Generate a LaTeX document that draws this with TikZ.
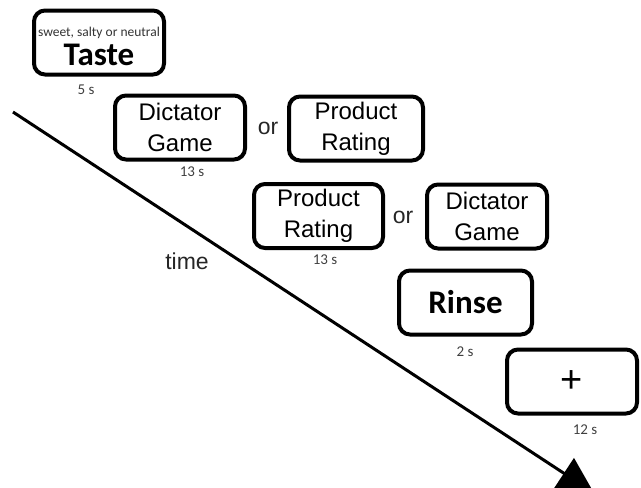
\documentclass[tikz,border=0pt]{standalone}
\usepackage{fontspec}
\usetikzlibrary{arrows.meta}
\newfontfamily\arialfont{Liberation Sans}
\newfontfamily\calfont{Carlito}

\begin{document}
\begin{tikzpicture}[x=1pt,y=-1pt,
  task/.style={draw, line width=4pt, rounded corners=11pt, minimum width=130pt, minimum height=64pt, inner sep=0pt, align=center, font=\arialfont\fontsize{24}{31}\selectfont},
  dur/.style={font=\calfont\fontsize{15}{15}\selectfont, text=black!75},
  word/.style={font=\arialfont\fontsize{23}{23}\selectfont, text=black!85}]
\useasboundingbox (0,0) rectangle (641,488);

% time line
\coordinate (t0) at (13,112);
\coordinate (t1) at (594,493);
\begin{scope}
\clip (0,0) rectangle (641,488);
\draw [line width=3pt, -{Triangle[length=36pt,width=36pt]}] (t0) -- (t1);
\end{scope}
\node[word] (time) at (187,261) {time};

% tasks
\node[task] (taste) at (99,42.5) {{\calfont\fontsize{13.5}{15}\selectfont\color{black!80}\rule{0pt}{18pt}sweet, salty or neutral}\\[-2pt]{\calfont\bfseries\fontsize{33}{33}\selectfont Taste}};
\node[dur] (d5) at (86,90) {5 s};

\node[task] (dg1) at (180,127.5) {Dictator\\Game};
\node[word] (or1) at (268,128) {or};
\node[task, minimum width=134pt] (pr1) at (356,128.5) {Product\\Rating};
\node[dur] (d13a) at (192,172) {13 s};

\node[task, minimum width=129pt] (pr2) at (318.5,216) {Product\\Rating};
\node[word] (or2) at (403,217) {or};
\node[task, minimum width=120pt] (dg2) at (487,216.5) {Dictator\\Game};
\node[dur] (d13b) at (325,260) {13 s};

\node[task, minimum width=133pt, font=\calfont\bfseries\fontsize{33}{33}\selectfont] (rinse) at (465.5,302.5) {Rinse};
\node[dur] (d2) at (465,352) {2 s};

\node[task, font=\arialfont\fontsize{38}{38}\selectfont] (fix) at (572,381.5) {+};
\node[dur] (d12) at (585,430) {12 s};

\end{tikzpicture}
\end{document}
